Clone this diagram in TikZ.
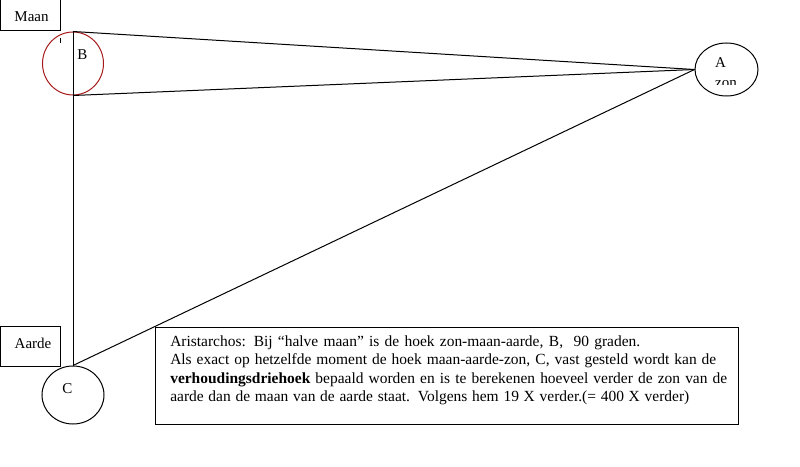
\documentclass[tikz,border=0pt]{standalone}
\usepackage{fontspec}
\setmainfont{Liberation Serif}
\usetikzlibrary{shapes.geometric}
\definecolor{moonred}{RGB}{165,25,25}
\tikzset{
  body/.style={ellipse, draw, line width=0.75pt, inner sep=0pt},
  txt/.style={inner sep=0pt, font=\fontsize{11.25}{13}\selectfont},
  ray/.style={line width=0.75pt},
  para/.style={inner sep=0pt, anchor=base west, font=\fontsize{11.6}{13}\selectfont}
}
\begin{document}
\begin{tikzpicture}[x=0.75pt,y=-0.75pt]
\useasboundingbox (0,0) rectangle (800,467);
% label boxes
\draw[ray] (0,0) rectangle (60,31);
\node[txt] (maan) at (31.5,16.5) {Maan};
\draw[ray] (0,326) rectangle (60,366);
\node[txt] (aarde) at (33,343) {Aarde};
% bodies
\node[body, draw=moonred, minimum width=45.75pt, minimum height=47.25pt] (B) at (73,63.5) {};
\node[body, minimum width=47.25pt, minimum height=39.75pt] (A) at (726.5,69.5) {};
\node[body, minimum width=46.5pt, minimum height=43.5pt] (C) at (73,395) {};
\node[txt] (Bl) at (82.5,55) {B};
\node[txt] (Al) at (720.5,62.5) {A};
\node[txt] (Cl) at (67.5,388.5) {C};
\begin{scope}
\clip (690,75) rectangle (760,84.5);
\node[txt] (zon) at (726,83.8) {zon};
\end{scope}
\draw[line width=0.75pt] (60,38) -- (60,43);
% rays
\draw[ray] (B.north) -- (C.north);
\draw[ray] (B.north) -- (A.west);
\draw[ray] (B.south) -- (A.west);
\draw[ray] (C.north) -- (A.west);
% text box
\draw[ray] (155,327) rectangle (738,424);
\node[para] (l1) at (170,346) {\makebox[352.5pt][s]{Aristarchos: Bij “halve maan” is de hoek zon-maan-aarde, B,\ \ 90 graden.}};
\node[para] (l2) at (170,364.5) {\makebox[409.5pt][s]{Als exact op hetzelfde moment de hoek maan-aarde-zon, C, vast gesteld wordt kan de}};
\node[para] (l3) at (170,383) {\makebox[417.75pt][s]{\textbf{verhoudingsdriehoek} bepaald worden en is te berekenen hoeveel verder de zon van de}};
\node[para] (l4) at (170,401.5) {\makebox[389.25pt][s]{aarde dan de maan van de aarde staat. Volgens hem 19 X verder.(= 400 X verder)}};
\end{tikzpicture}
\end{document}
